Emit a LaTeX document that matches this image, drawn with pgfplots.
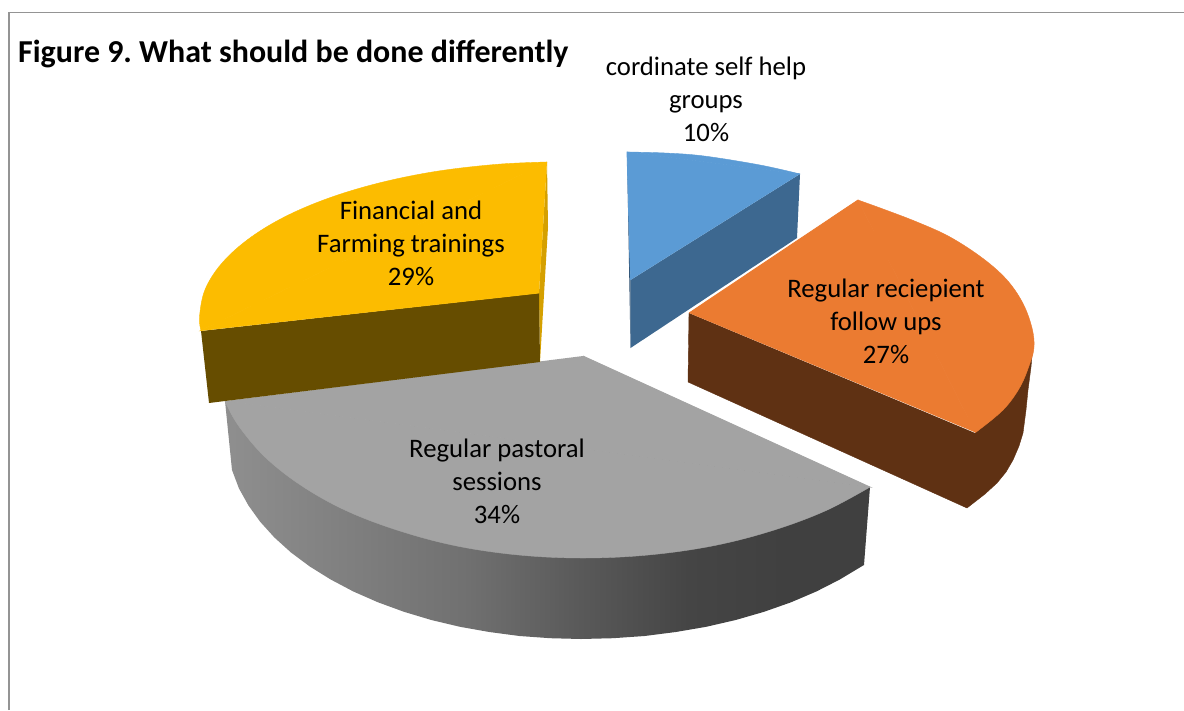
\documentclass[border=0pt]{standalone}
\usepackage{pgfplots}
\pgfplotsset{compat=1.18}
\usepackage{fontspec}
\setmainfont{Carlito}
\frenchspacing
\definecolor{cblue}{HTML}{5B9BD5}
\definecolor{cbluedk}{HTML}{3D6890}
\definecolor{cbluedd}{HTML}{2E4F6F}
\definecolor{corange}{HTML}{EB7B31}
\definecolor{corangedk}{HTML}{5F3113}
\definecolor{cgray}{HTML}{A3A3A3}
\definecolor{cyellow}{HTML}{FCBC00}
\definecolor{cyellowdk}{HTML}{664D00}
\definecolor{cyellowsl}{HTML}{D5A000}
\pgfdeclarehorizontalshading{sideshade}{100bp}{
  color(0bp)=(black!44); color(25bp)=(black!44); color(43.8bp)=(black!56);
  color(52.5bp)=(black!65); color(61bp)=(black!73); color(68.8bp)=(black!75);
  color(100bp)=(black!75)}
\begin{document}
\begin{tikzpicture}
\begin{axis}[
  at={(0,0)}, anchor=south west,
  scale only axis, width=1184pt, height=710pt,
  xmin=0, xmax=1184, ymin=0, ymax=710, y dir=reverse,
  axis lines=none, clip=true,
]
% page extent
\addplot[draw=white, fill=white, line width=0pt] coordinates {(0,0)(1184,0)(1184,710)(0,710)};
% chart frame
\addplot[draw=black!42, line width=1.1pt] coordinates {(9,710) (9,12.5) (1184,12.5)};
% gray side
\addplot[draw=none, shading=sideshade] coordinates {
 (225,401)(232,470)(239,488.5)(248.4,505.4)(260.2,521.8)(274.4,537.5)(291,552.5)(309.8,566.5)
 (330.7,579.5)(353.4,591.5)(378,602.3)(404,611.8)(431.3,620)(460,626.8)(489.3,632)(519.5,636)
 (550.2,638.2)(581,639)(612.9,638.2)(644.6,636)(675.8,632)(706.2,626.8)(735.7,620)(764,611.8)
 (791,602.3)(816.3,591.5)(839.8,579.5)(861.4,566.5)(864,565)(870,487)};
% gray top
\addplot[draw=cgray, line width=0.4pt, fill=cgray, smooth, tension=0.6] coordinates {
 (870,487)(825,511)(771,531)(712,546)(648,555)(583,558)(519,555)(457,546)(400,531)(347,511)(302,486)(265,457)(238,425)(225,401)};
\addplot[draw=cgray, line width=0.8pt, fill=cgray] coordinates {(583,356)(870,487)(225,401)};
% yellow
\addplot[draw=none, fill=cyellowsl] coordinates {(547,162)(548,227)(540,362)(539,293)};
\addplot[draw=none, fill=cyellowdk] coordinates {(201,331)(539,293)(540,362)(209,403)};
\addplot[draw=cyellow, line width=0.4pt, fill=cyellow, smooth, tension=0.6] coordinates {
 (201,330.5)(199.5,317)(204.9,290)(221.2,264)(247.8,239.5)(283.8,217.3)(328.2,198.3)(379.8,182.8)(436.7,171.3)(497.3,164.3)(547,162)};
\addplot[draw=cyellow, line width=0.8pt, fill=cyellow] coordinates {(539,293)(201,330.5)(547,162)};
% blue
\addplot[draw=none, fill=cbluedd] coordinates {(627,152)(630.5,348)(630.5,280)};
\addplot[draw=none, fill=cbluedk] coordinates {(630.5,280)(800,174)(797,238)(630.5,348)};
\addplot[draw=cblue, line width=0.4pt, fill=cblue, smooth, tension=0.6] coordinates {
 (627,152)(665,153)(704,156)(760,165)(800,174)};
\addplot[draw=cblue, line width=0.8pt, fill=cblue] coordinates {(630.5,280)(627,152)(800,174)};
% orange
\addplot[draw=corangedk, line width=0.4pt, fill=corangedk] coordinates {(689,313)(688,382)(967,508)(985,494)(997,483)(1006,472)(1013,460)(1019,446)(1023,433)(1026,410)(1028,390)(1031,367)(1033,345)(975,433)};
\addplot[draw=corange, line width=0.4pt, fill=corange, smooth, tension=0.6] coordinates {
 (858,200)(883,209)(917,222)(950,237)(983,258.5)(1007,280)(1023,303.5)(1032,328)(1034,347)(1030,363)(1020,387)(1003,410)(975.5,432.5)};
\addplot[draw=corange, line width=0.8pt, fill=corange] coordinates {(689,313)(858,200)(975.5,432.5)};
% texts
\node[anchor=west, inner sep=0pt, font=\fontsize{31.95}{36}\selectfont\bfseries] at (axis cs:18,54) {Figure 9. What should be done differently};
\node[align=center, font=\fontsize{26.7}{33}\selectfont] at (axis cs:706,99) {cordinate self help\\groups\\10\%};
\node[align=center, font=\fontsize{26.7}{33}\selectfont] at (axis cs:886,321) {Regular reciepient\\follow ups\\27\%};
\node[align=center, font=\fontsize{26.7}{33}\selectfont] at (axis cs:497,481) {Regular pastoral\\sessions\\34\%};
\node[align=center, font=\fontsize{26.7}{33}\selectfont] at (axis cs:411,243) {Financial and\\Farming trainings\\29\%};
\end{axis}
\end{tikzpicture}
\end{document}
